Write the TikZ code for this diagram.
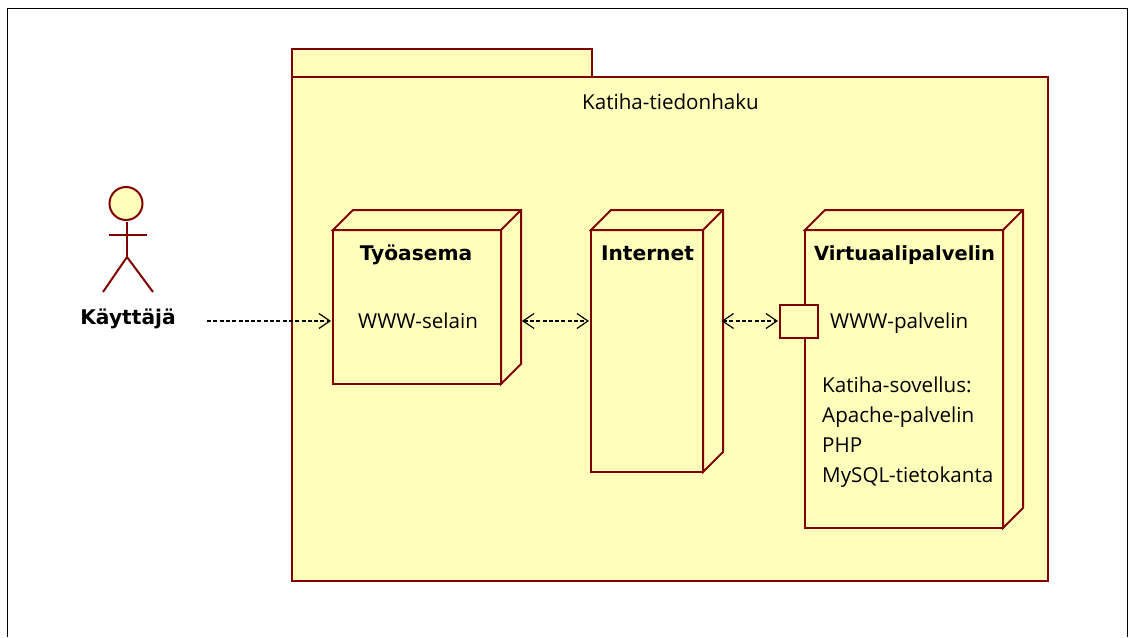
\documentclass[tikz,border=0pt]{standalone}
\usepackage{fontspec}
\setmainfont{Open Sans}
\newfontfamily\boldf{DejaVu Sans}[BoldFont={DejaVu Sans Bold}]
\usetikzlibrary{arrows.meta,calc}
\definecolor{umlfill}{HTML}{FFFFBB}
\definecolor{umlline}{HTML}{800000}
\tikzset{
  x=1pt,y=-1pt,
  umlline/.style={draw=umlline,line width=2pt,line join=miter},
  facebox/.style={umlline,fill=umlfill,inner sep=0pt,outer sep=0pt,rectangle},
  title/.style={font=\boldf\bfseries\fontsize{20.2}{24}\selectfont,text=black,inner sep=0pt,anchor=base},
  body/.style={font=\fontsize{20.6}{24}\selectfont,text=black,inner sep=0pt,anchor=base west},
  conn/.style={draw=black,line width=1.2pt,dash pattern=on 4pt off 2.3pt,-{Straight Barb[length=11pt,width=15pt,line width=1.2pt]},shorten >=2pt},
  conn2/.style={conn,{Straight Barb[length=11pt,width=15pt,line width=1.2pt]}-{Straight Barb[length=11pt,width=15pt,line width=1.2pt]},shorten >=2pt},
}
\newcommand{\depthbox}[2]{%
  \draw[umlline,fill=umlfill]
    (#1.north west) -- ++(#2,-#2) -- ($(#1.north east)+(#2,-#2)$) -- ($(#1.south east)+(#2,-#2)$) -- (#1.south east) -- (#1.north east) -- cycle;
  \draw[umlline] (#1.north east) -- ++(#2,-#2);
}
\begin{document}
\begin{tikzpicture}
\useasboundingbox (0,0) rectangle (1129,637);
\fill[white] (0,0) rectangle (1129,637);
% outer frame
\draw[black,line width=1pt] (7.5,637) -- (7.5,8.5) -- (1127.5,8.5) -- (1127.5,637);
% package
\node[facebox,minimum width=300pt,minimum height=28pt] (tab) at (442,63) {};
\node[facebox,minimum width=756pt,minimum height=504pt] (pkg) at (670,329) {};
\node[inner sep=0pt,anchor=base,text=black,font=\fontsize{20.6}{24}\selectfont] (pkgname) at (670.5,109) {Katiha-tiedonhaku};
% nodes
\node[facebox,minimum width=168pt,minimum height=154pt] (tyo) at (417,307) {};
\depthbox{tyo}{20}
\node[facebox,minimum width=112pt,minimum height=242pt] (net) at (647,351) {};
\depthbox{net}{20}
\node[facebox,minimum width=198pt,minimum height=298pt] (vir) at (904,379) {};
\depthbox{vir}{20}
\node[facebox,minimum width=38pt,minimum height=33pt] (port) at (799,321.5) {};
% titles
\node[title] (tyot) at (416,260) {Työasema};
\node[title] (nett) at (647.5,260) {Internet};
\node[title,font=\boldf\bfseries\fontsize{19.5}{24}\selectfont] (virt) at (904.5,260) {Virtuaalipalvelin};
% body text
\node[body] (selain) at (358,328) {WWW-selain};
\node[body] (wwwp) at (830,328) {WWW-palvelin};
\node[body] (kat) at (822,392) {Katiha-sovellus:};
\node[body] (apa) at (822,422) {Apache-palvelin};
\node[body] (php) at (822,452) {PHP};
\node[body] (mys) at (822,482) {MySQL-tietokanta};
% actor
\node[umlline,fill=umlfill,circle,inner sep=0pt,minimum size=33pt] (head) at (126,203.5) {};
\coordinate (hip) at (127,257);
\draw[umlline] (127,222) -- (hip);
\draw[umlline] (109,234.5) -- (147,234.5);
\draw[umlline] (103,292) -- (hip) -- (153,292);
\node[title] (actor) at (128,324) {Käyttäjä};
% connectors
\coordinate (a0) at (207,321);
\draw[conn] (a0) -- (tyo.west |- a0);
\draw[conn2] ($(tyo.east |- a0)+(21,0)$) -- (net.west |- a0);
\draw[conn2] ($(net.east |- a0)+(18.5,0)$) -- (port.west |- a0);
\end{tikzpicture}
\end{document}
